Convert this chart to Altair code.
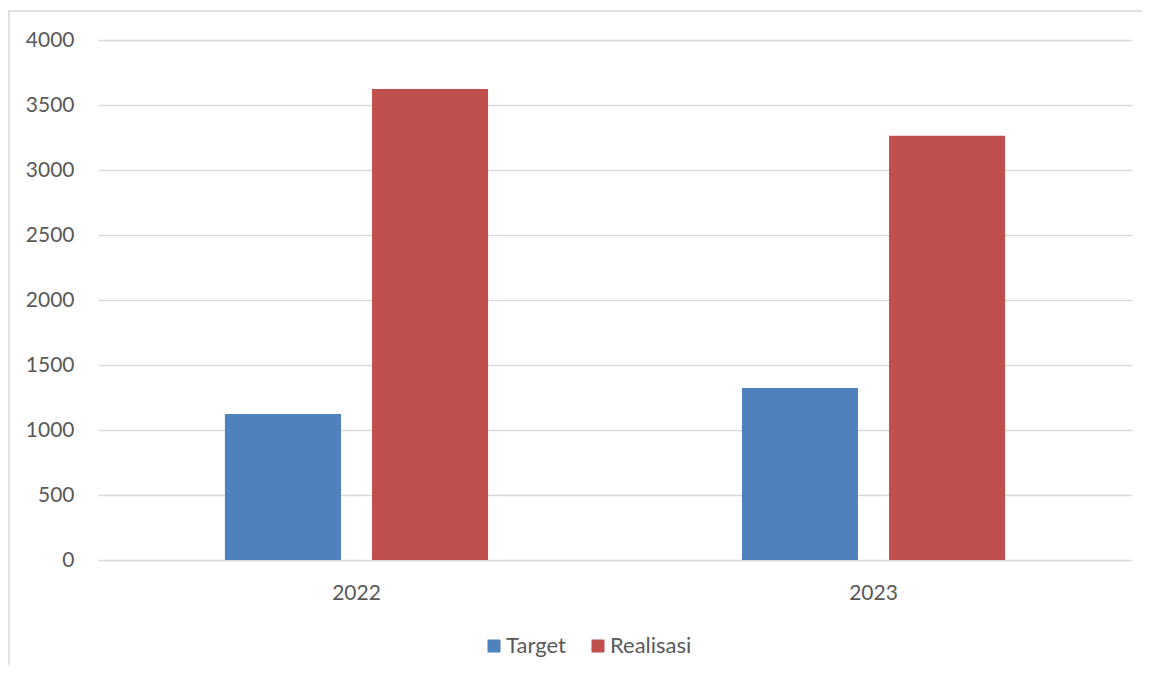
import altair as alt
import pandas as pd

years = ["2022", "2023"]
series = ["Target", "Realisasi"]
target = [1123, 1323]
realisasi = [3623, 3264]
y_ticks = [0, 500, 1000, 1500, 2000, 2500, 3000, 3500, 4000]
colors = ["#4F81BD", "#C0504D"]

rows = []
for i, yr in enumerate(years):
    rows.append({"year": yr, "series": "Target", "value": target[i]})
    rows.append({"year": yr, "series": "Realisasi", "value": realisasi[i]})
df = pd.DataFrame(rows)

FONT = "Lato"
TEXT = "#595959"

bars = alt.Chart(df).mark_bar().encode(
    x=alt.X("year:N", sort=years,
            scale=alt.Scale(paddingInner=0.491, paddingOuter=0.2455),
            axis=alt.Axis(title=None, labelAngle=0, domain=False, ticks=False,
                          labelPadding=22, labelFontSize=21, labelColor=TEXT,
                          labelFont=FONT, grid=False)),
    xOffset=alt.XOffset("series:N", sort=series,
                        scale=alt.Scale(paddingInner=0.211, paddingOuter=0)),
    y=alt.Y("value:Q",
            scale=alt.Scale(domain=[0, 4000], nice=False),
            axis=alt.Axis(title=None, values=y_ticks, format="d", domain=False, ticks=False,
                          labelPadding=24, labelFontSize=21, labelColor=TEXT,
                          labelFont=FONT, gridColor="#d9d9d9", gridWidth=1.3)),
    color=alt.Color("series:N", sort=series,
                    scale=alt.Scale(domain=series, range=colors),
                    legend=alt.Legend(title=None, orient="none", legendX=385, legendY=595,
                                      direction="horizontal", symbolType="square",
                                      symbolSize=169, symbolStrokeWidth=0,
                                      labelFontSize=22, labelFont=FONT, labelColor=TEXT,
                                      labelOffset=1, columnPadding=21, padding=0)),
)

one = alt.Data(values=[{"k": 1}])
border_top = alt.Chart(one).mark_rule(color="#d9d9d9", strokeWidth=1.5).encode(
    x=alt.value(-90), x2=alt.value(1060), y=alt.value(-29), y2=alt.value(-29))
border_left = alt.Chart(one).mark_rule(color="#d9d9d9", strokeWidth=1.5).encode(
    x=alt.value(-89), x2=alt.value(-89), y=alt.value(-29), y2=alt.value(640))

chart = alt.layer(bars, border_top, border_left).properties(
    width=1034, height=520,
    autosize=alt.AutoSizeParams(type="none"),
    padding={"left": 90, "top": 32, "right": 10, "bottom": 105},
    view=alt.ViewBackground(strokeOpacity=0, strokeWidth=0),
).configure_view(strokeWidth=0, strokeOpacity=0).configure(background="white")

chart.save("out.html", embed_options={"renderer": "svg", "actions": False})
